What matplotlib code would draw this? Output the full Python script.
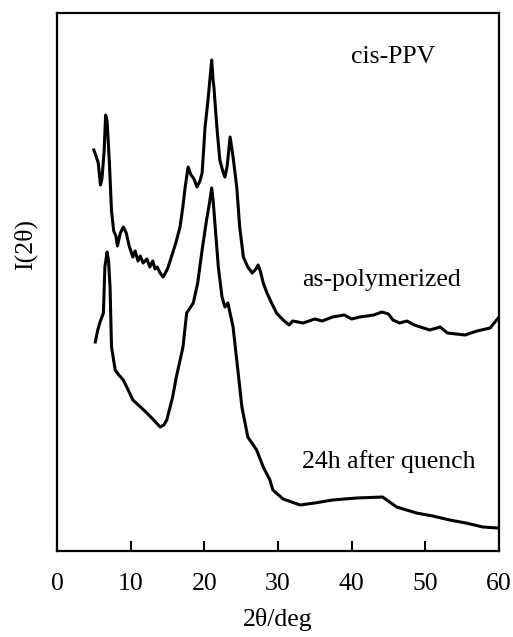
import numpy as np
import matplotlib
matplotlib.use("Agg")
import matplotlib.pyplot as plt

# 2theta (deg) and intensity (arbitrary units)
theta_poly = [5.0, 5.3, 5.6, 5.9, 6.1, 6.4, 6.6, 6.8, 7.1, 7.4, 7.7, 8.0, 8.2, 8.6, 9.0, 9.4,
              9.8, 10.3, 10.6, 11.0, 11.3, 11.7, 12.2, 12.6, 13.0, 13.3, 13.6, 14.0, 14.4, 15.0,
              15.7, 16.2, 16.7, 17.1, 17.4, 17.8, 18.2, 18.6, 19.0, 19.4, 19.7, 20.1, 20.5,
              20.8, 21.0, 21.2, 21.3, 21.7, 22.1, 22.5, 22.8, 23.1, 23.5, 23.9, 24.4, 24.8,
              25.3, 25.9, 26.5, 27.0, 27.3, 27.6, 28.0, 28.5, 29.0, 29.8, 30.7, 31.5, 32.0,
              33.4, 35.0, 36.0, 37.4, 39.0, 40.0, 41.1, 43.0, 44.1, 45.0, 45.6, 46.5, 47.5,
              48.5, 50.6, 52.0, 53.0, 55.4, 57.0, 58.8, 59.9]
int_poly = [401, 395, 388, 366, 372, 400, 436, 430, 390, 340, 320, 315, 305, 318, 324, 318,
            305, 294, 300, 290, 295, 288, 292, 284, 290, 282, 284, 278, 274, 282,
            298, 310, 324, 345, 364, 384, 376, 372, 364, 370, 378, 424, 451,
            475, 491, 470, 464, 424, 391, 380, 374, 385, 414, 394, 364, 324,
            294, 284, 278, 282, 286, 280, 268, 258, 250, 238, 231, 226, 230,
            228, 232, 230, 234, 236, 232, 234, 236, 239, 237, 231, 228, 230,
            226, 221, 224, 218, 216, 220, 223, 233]

theta_quench = [5.2, 5.5, 5.8, 6.3, 6.5, 6.8, 7.0, 7.2, 7.4, 7.9, 8.4, 9.0, 9.6, 10.3, 11.2,
                12.2, 13.0, 14.0, 14.5, 14.9, 15.7, 16.2, 17.1, 17.6, 18.5, 19.1, 19.7,
                20.3, 20.7, 21.0, 21.2, 21.4, 21.9, 22.4, 22.8, 23.2, 23.9, 24.4, 25.1,
                25.9, 27.1, 28.0, 28.9, 29.3, 30.7, 33.0, 35.0, 37.4, 40.7, 44.2, 46.1,
                48.8, 51.0, 53.3, 55.5, 57.8, 59.8]
int_quench = [209, 220, 228, 238, 284, 299, 290, 264, 204, 181, 176, 171, 162, 151, 145,
              138, 132, 124, 126, 131, 154, 174, 204, 238, 248, 268, 301,
              331, 348, 363, 350, 331, 284, 254, 244, 248, 224, 191, 144,
              114, 101, 84, 71, 61, 52, 46, 48, 51, 53, 54, 44,
              38, 35, 31, 28, 24, 23]

xticks = [0, 10, 20, 30, 40, 50, 60]

serif = ["Liberation Serif", "DejaVu Serif"]
plt.rcParams['font.family'] = serif

fig = plt.figure(figsize=(5.13, 6.37), dpi=100)
ax = fig.add_axes([57 / 513, 86 / 637, 442 / 513, 538 / 637])

ax.plot(theta_poly, int_poly, color='black', lw=2.2)
ax.plot(theta_quench, int_quench, color='black', lw=2.2)

ax.set_xlim(0, 60)
ax.set_ylim(0, 538)
ax.set_xticks(xticks)
ax.tick_params(axis='x', direction='in', length=7, width=1.5, pad=16, labelsize=18.5)
ax.set_yticks([])
for s in ax.spines.values():
    s.set_linewidth(1.6)

ax.set_xlabel('2\u03b8/deg', fontsize=18.5, labelpad=9)
ax.set_ylabel('I(2\u03b8)', fontsize=18.5)
ax.yaxis.set_label_coords(-0.045, 0.57)

ax.text(45.6, 494, 'cis-PPV', fontsize=18.5, ha='center', va='center')
ax.text(33.3, 271, 'as-polymerized', fontsize=18.5, ha='left', va='center')
ax.text(33.3, 89, '24h after quench', fontsize=18.5, ha='left', va='center')

plt.savefig('out.png', dpi=100)
